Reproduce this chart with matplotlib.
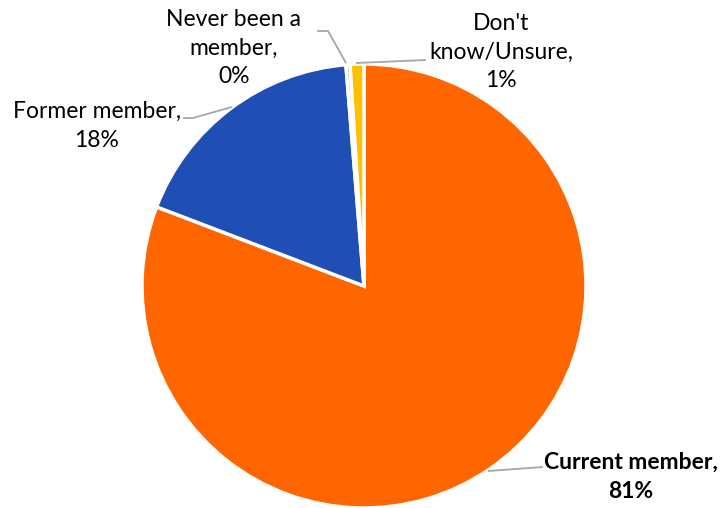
import matplotlib
matplotlib.use("Agg")
import matplotlib.pyplot as plt

categories = ["Current member", "Former member", "Never been a member", "Don't know/Unsure"]
values = [80.8, 17.9, 0.3, 1.0]
pct_labels = ["81%", "18%", "0%", "1%"]
colors = ["#FF6600", "#1F4EB4", "#A5A5A5", "#FFC000"]

W, H = 723, 508
fig = plt.figure(figsize=(W / 100, H / 100), dpi=100)
cx, cy, R = 364, 286, 222
ax = fig.add_axes([(cx - R) / W, (H - cy - R) / H, 2 * R / W, 2 * R / H])
ax.pie(values, colors=colors, startangle=90, counterclock=False, radius=1.0,
       wedgeprops=dict(edgecolor="white", linewidth=2.5))
ax.set_xlim(-1, 1)
ax.set_ylim(-1, 1)
ax.set_aspect("equal")
ax.axis("off")


def p2d(px, py):
    return ((px - cx) / R, (cy - py) / R)


font = "Lato"
fs = 16.5
lc = "#A6A6A6"

texts = [
    ("Current member,\n81%", (631, 477), "bold",
     [(488, 471), (543, 467)]),
    ("Former member,\n18%", (97, 126), "normal",
     [(232, 107), (193, 118), (183, 118)]),
    ("Never been a\nmember,\n0%", (234, 48), "normal",
     [(346, 63), (328, 31), (317, 31)]),
    ("Don't\nknow/Unsure,\n1%", (501, 52), "normal",
     [(356, 63), (426, 60)]),
]

for txt, pos, weight, pts in texts:
    xs, ys = zip(*[p2d(*p) for p in pts])
    ax.plot(xs, ys, color=lc, lw=1.3, clip_on=False, solid_capstyle="butt")
    tx, ty = p2d(*pos)
    ax.text(tx, ty, txt, ha="center", va="center", fontsize=fs, fontweight=weight,
            family=font, color="black", linespacing=1.45, clip_on=False)

fig.savefig("out.png", dpi=100)
